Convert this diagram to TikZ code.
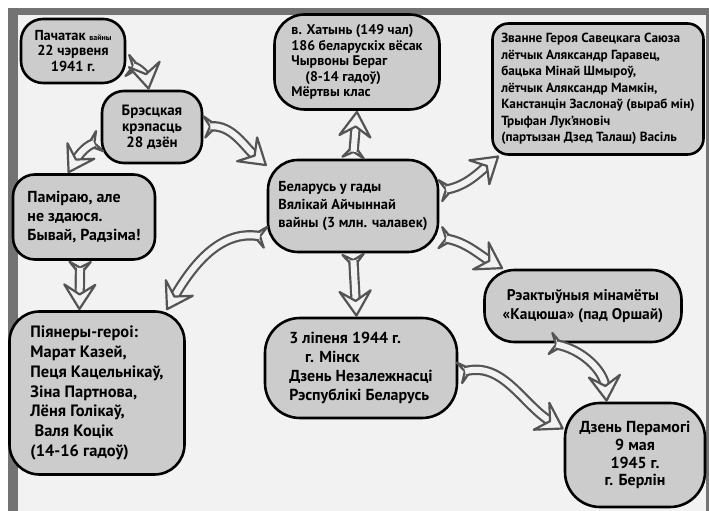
\documentclass[tikz,border=0pt]{standalone}
\usepackage{fontspec}
\setmainfont{PT Sans}
\usetikzlibrary{arrows.meta}
\definecolor{blobgray}{gray}{0.80}
\definecolor{arrowgray}{gray}{0.33}
\definecolor{paper}{gray}{0.95}
\definecolor{edge}{gray}{0.45}
\tikzset{
  blob/.style={draw=black, line width=2.6bp, fill=blobgray, rounded corners=22bp,
    align=center, inner sep=3bp, font=\bfseries\fontsize{15}{16}\selectfont},
  tipsonly/.style={draw=arrowgray, line width=2.2bp, dash pattern=on 0bp off 3000bp},
  blockarrow/.style={
    preaction={tipsonly, {Stealth[reversed, round, fill=paper, length=18bp, width=30bp, inset=8bp]}-},
    preaction={draw=arrowgray, line width=2.2bp, double=paper, double distance=6bp,
      shorten >=14bp, shorten <=7bp},
    postaction={tipsonly, -{Stealth[round, fill=paper, length=30bp, width=38bp, inset=12bp]}}}
}
\begin{document}
\begin{tikzpicture}[x=1bp, y=1bp]
\useasboundingbox (0,0) rectangle (709,511);
\fill[white] (0,0) rectangle (709,511);
\fill[edge] (8,0) rectangle (709,503);
\fill[paper] (18,-20) rectangle (706,496);

% boxes
\node[blob, minimum width=104bp, minimum height=64bp,
  font=\bfseries\fontsize{14.5}{15.5}\selectfont] (1) at (73,460)
  {Пачатак {\fontsize{8}{8}\selectfont вайны}\\22 чэрвеня\\1941 г.};
\node[blob, minimum width=100bp, minimum height=72bp] (2) at (152,384)
  {Брэсцкая\\крэпасць\\28 дзён};
\node[blob, minimum width=165bp, minimum height=95bp, rounded corners=30bp, align=left,
  font=\bfseries\fontsize{14}{15.5}\selectfont] (3) at (357,449)
  {в. Хатынь (149 чал)\\186 беларускіх вёсак\\Чырвоны Бераг\\\quad(8-14 гадоў)\\Мёртвы клас};
\node[blob, minimum width=211bp, minimum height=131bp, rounded corners=16bp, align=left,
  font=\bfseries\fontsize{13.3}{16.5}\selectfont] (4) at (598,422)
  {Званне Героя Савецкага Саюза\\лётчык Аляксандр Гаравец,\\бацька Мінай Шмыроў,\\лётчык Аляксандр Мамкін,\\Канстанцін Заслонаў (выраб мін)\\Трыфан Лук'яновіч\\(партызан Дзед Талаш) Васіль};
\node[blob, minimum width=142bp, minimum height=85bp, align=left,
  font=\bfseries\fontsize{16}{19}\selectfont] (5) at (84,294)
  {Паміраю, але\\не здаюся.\\Бывай, Радзіма!};
\node[blob, minimum width=170bp, minimum height=92bp, rounded corners=30bp, align=left,
  font=\bfseries\fontsize{14.5}{18}\selectfont] (6) at (353,305)
  {Беларусь у гады\\Вялікай Айчыннай\\вайны (3 млн. чалавек)};
\node[blob, minimum width=197bp, minimum height=72bp, rounded corners=30bp,
  font=\bfseries\fontsize{15.5}{19}\selectfont] (7) at (583,205)
  {Рэактыўныя мінамёты\\«Кацюша» (пад Оршай)};
\node[blob, minimum width=175bp, minimum height=163bp, rounded corners=30bp, align=left,
  font=\bfseries\fontsize{16.5}{20}\selectfont] (8) at (97,118)
  {Піянеры-героі:\\Марат Казей,\\Пеця Кацельнікаў,\\Зіна Партнова,\\Лёня Голікаў,\\\ Валя Коцік\\(14-16 гадоў)};
\node[blob, minimum width=192bp, minimum height=100bp, rounded corners=35bp, align=left,
  font=\bfseries\fontsize{16}{19}\selectfont] (9) at (361,143)
  {3 ліпеня 1944 г.\\\quad г. Мінск\\Дзень Незалежнасці\\Рэспублікі Беларусь};
\node[blob, minimum width=140bp, minimum height=104bp, rounded corners=35bp,
  font=\bfseries\fontsize{16}{18}\selectfont] (10) at (635,56)
  {Дзень Перамогі\\9 мая\\1945 г.\\г. Берлін};

% arrows
\path[blockarrow] (1.-15) to[out=-10, in=100] (2.95);
\path[blockarrow] (2.195) to[out=200, in=60] (5.110);
\path[blockarrow] (2.0) to[out=5, in=140] (6.155);
\path[blockarrow] (6.90) -- (3.-90);
\path[blockarrow] (6.10) to[out=10, in=220] (4.214);
\path[blockarrow] (6.-20) to[out=-10, in=150] (7.155);
\path[blockarrow] (6.200) to[out=170, in=60] (8.50);
\path[blockarrow] (6.-90) -- (9.95);
\path[blockarrow] (5.-95) -- (8.102);
\path[blockarrow] (9.-3) to[out=15, in=150] (10.160);
\path[blockarrow] (7.228) to[out=-10, in=95] (10.118);
\end{tikzpicture}
\end{document}
